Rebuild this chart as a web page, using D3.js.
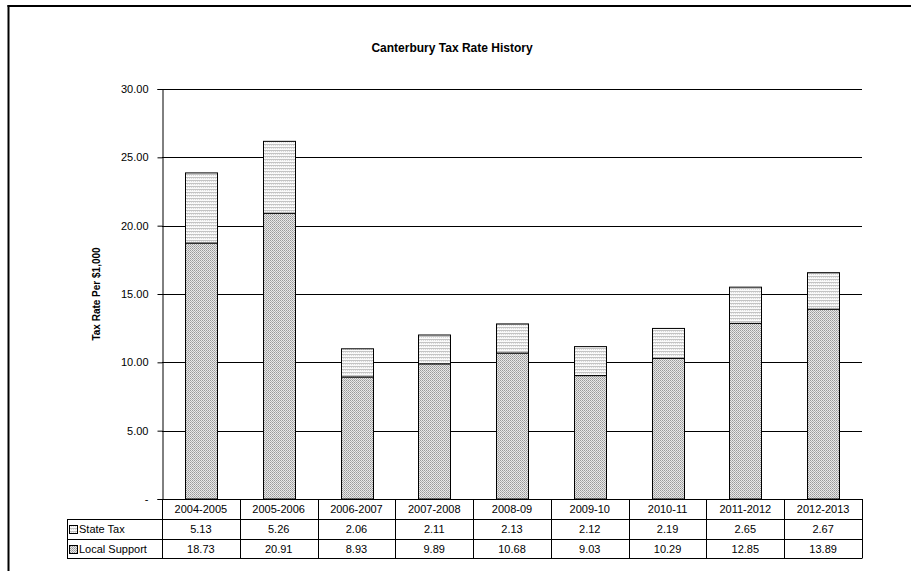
<!DOCTYPE html>
<html><head><meta charset="utf-8">
<script src="https://cdn.jsdelivr.net/npm/d3@7/dist/d3.min.js"></script>
<style>body{margin:0;background:#fff}svg{display:block;font-family:"Liberation Sans",Arial,sans-serif}</style>
</head><body><svg id="c" width="911" height="571"></svg>
<script>
const categories = ["2004-2005","2005-2006","2006-2007","2007-2008","2008-09","2009-10","2010-11","2011-2012","2012-2013"];
const stateTax = [5.13,5.26,2.06,2.11,2.13,2.12,2.19,2.65,2.67];
const localSupport = [18.73,20.91,8.93,9.89,10.68,9.03,10.29,12.85,13.89];
const yTicks = [0,5,10,15,20,25,30];
const seriesNames = ["State Tax","Local Support"];

const svg = d3.select("#c");
const L = 162, R = 862, T = 89, B = 499;
const defs = svg.append("defs");
const p1 = defs.append("pattern").attr("id","pState").attr("patternUnits","userSpaceOnUse").attr("width",2).attr("height",3);
p1.append("rect").attr("width",2).attr("height",3).attr("fill","#fafafa");
p1.append("rect").attr("width",2).attr("height",1).attr("fill","#c4c4c4");
p1.append("rect").attr("x",1).attr("y",1).attr("width",1).attr("height",1).attr("fill","#dcdcdc");
const p2 = defs.append("pattern").attr("id","pLocal").attr("patternUnits","userSpaceOnUse").attr("width",2).attr("height",2);
p2.append("rect").attr("width",2).attr("height",2).attr("fill","#e8e8e8");
p2.append("rect").attr("width",1).attr("height",1).attr("fill","#999");
p2.append("rect").attr("x",1).attr("y",1).attr("width",1).attr("height",1).attr("fill","#b0b0b0");

// frame
svg.append("line").attr("x1",7.5).attr("x2",911).attr("y1",6).attr("y2",6).attr("stroke","#000").attr("stroke-width",2);
svg.append("line").attr("x1",8.5).attr("x2",8.5).attr("y1",5).attr("y2",571).attr("stroke","#000").attr("stroke-width",2);

svg.append("text").attr("x",452).attr("y",52).attr("text-anchor","middle").attr("font-weight","bold").attr("font-size",12).text("Canterbury Tax Rate History");

const x = d3.scaleBand().domain(categories).range([L,R]).padding(0);
const y = d3.scaleLinear().domain([0,30]).range([B,T]);

// gridlines
svg.append("g").selectAll("line").data(yTicks.filter(d=>d>0)).join("line")
  .attr("x1",L).attr("x2",R).attr("y1",d=>Math.round(y(d))+0.5).attr("y2",d=>Math.round(y(d))+0.5).attr("stroke","#000");

const yAxis = d3.axisLeft(y).tickValues(yTicks).tickSize(5).tickFormat(d=>d===0?"-":d3.format(".2f")(d));
const ga = svg.append("g").attr("transform",`translate(${L+0.5},0)`).call(yAxis);
ga.select(".domain").attr("stroke","#000");
ga.selectAll(".tick line").attr("stroke","#000");
ga.selectAll("text").attr("font-size",11).attr("fill","#000").attr("x",-14).style("font-family","Liberation Sans, Arial, sans-serif");

svg.append("text").attr("transform","translate(100,294) rotate(-90)").attr("text-anchor","middle").attr("font-weight","bold").attr("font-size",10).text("Tax Rate Per $1,000");

const bw = x.bandwidth()*0.41;
const g = svg.append("g");
categories.forEach((c,i)=>{
  const cx = x(c)+x.bandwidth()/2;
  const x0 = Math.round(cx-bw/2)+0.5;
  g.append("rect").attr("x",x0).attr("width",Math.round(bw)).attr("y",y(localSupport[i])).attr("height",B-y(localSupport[i]))
    .attr("fill","url(#pLocal)").attr("stroke","#000");
  g.append("rect").attr("x",x0).attr("width",Math.round(bw)).attr("y",y(localSupport[i]+stateTax[i])).attr("height",y(localSupport[i])-y(localSupport[i]+stateTax[i]))
    .attr("fill","url(#pState)").attr("stroke","#000");
});

// data table
const rowY = [499,519,539,558];
const LL = 67;
const tg = svg.append("g").attr("stroke","#000").attr("fill","none");
tg.append("line").attr("x1",L).attr("x2",R).attr("y1",rowY[0]+0.5).attr("y2",rowY[0]+0.5);
[1,2,3].forEach(k=>tg.append("line").attr("x1",LL).attr("x2",R).attr("y1",rowY[k]+0.5).attr("y2",rowY[k]+0.5));
tg.append("line").attr("x1",LL+0.5).attr("x2",LL+0.5).attr("y1",rowY[1]).attr("y2",rowY[3]+0.5);
categories.concat([null]).forEach((c,i)=>{
  const xx = Math.round(c? x(c): R)+0.5;
  tg.append("line").attr("x1",xx).attr("x2",xx).attr("y1",rowY[0]).attr("y2",rowY[3]+0.5);
});
const txt = svg.append("g").attr("font-size",11).attr("fill","#000");
categories.forEach((c,i)=>{
  const cx = x(c)+x.bandwidth()/2;
  txt.append("text").attr("x",cx).attr("y",rowY[0]+14).attr("text-anchor","middle").text(c);
  txt.append("text").attr("x",cx).attr("y",rowY[1]+14).attr("text-anchor","middle").text(d3.format(".2f")(stateTax[i]));
  txt.append("text").attr("x",cx).attr("y",rowY[2]+14).attr("text-anchor","middle").text(d3.format(".2f")(localSupport[i]));
});
seriesNames.forEach((n,k)=>{
  const yy = rowY[k+1];
  svg.append("rect").attr("x",69.5).attr("y",yy+6.5).attr("width",8).attr("height",8)
    .attr("fill",k===0?"url(#pState)":"url(#pLocal)").attr("stroke","#000");
  txt.append("text").attr("x",79).attr("y",yy+14).text(n);
});
</script></body></html>
